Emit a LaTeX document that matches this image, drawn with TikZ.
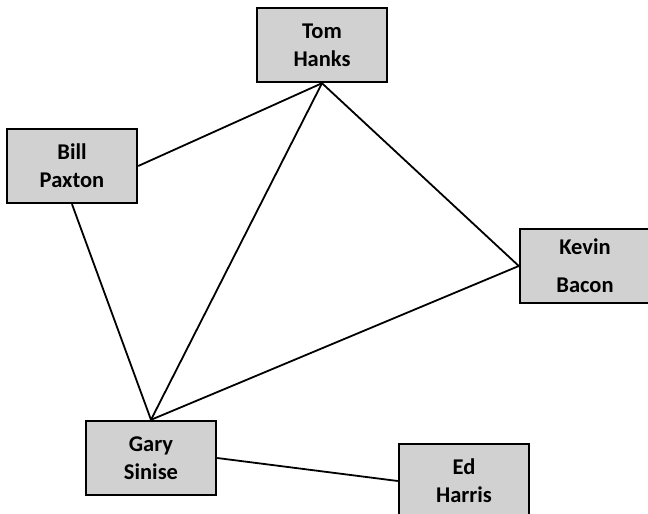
\documentclass[tikz,border=0pt]{standalone}
\usepackage{fontspec}
\setmainfont{Carlito}
\tikzset{actor/.style={draw=black, line width=2.4pt, fill=black!18,
    minimum width=130pt, minimum height=74pt, inner sep=0pt, align=center,
    font=\fontsize{22.5}{28}\selectfont\bfseries},
  link/.style={line width=1.8pt}}

\begin{document}
\begin{tikzpicture}[x=1pt,y=-1pt]
   \clip (0,0) rectangle (648,514);
   \node[actor] (tom)   at (322,45)  {Tom\\Hanks};
   \node[actor] (bill)  at (72,166)  {Bill\\Paxton};
   \node[actor] (kevin) at (585,266) {Kevin\\[10pt]Bacon};
   \node[actor] (gary)  at (151,458) {Gary\\Sinise};
   \node[actor] (ed)    at (464,481) {Ed\\Harris};
   \draw[link] (bill.east) -- (tom.south);
   \draw[link] (tom.south) -- (kevin.west);
   \draw[link] (tom.south) -- (gary.north);
   \draw[link] (bill.south) -- (gary.north);
   \draw[link] (kevin.west) -- (gary.north);
   \draw[link] (gary.east) -- (ed.west);
\end{tikzpicture}
\end{document}
